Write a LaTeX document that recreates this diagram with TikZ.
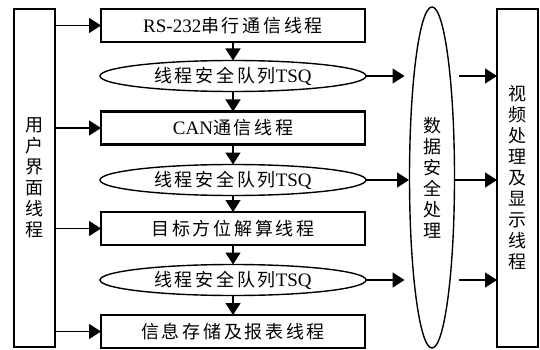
\documentclass[tikz,border=0pt]{standalone}
\usepackage{fontspec}
\setmainfont{Liberation Serif}
\newfontfamily\cjkh[LetterSpace=15]{Noto Sans CJK SC}
\newfontfamily\cjkv{Noto Sans CJK SC}
\newcommand\zhtext[1]{{\cjkh\fontsize{18}{21}\selectfont #1}}
\usetikzlibrary{arrows.meta,shapes.geometric}
\tikzset{
  box/.style={draw, line width=2.2pt, minimum width=264pt, minimum height=33pt,
    inner sep=0pt, outer sep=0pt, font=\fontsize{19}{21}\selectfont},
  queue/.style={draw, ellipse, line width=1.4pt, minimum width=266pt, minimum height=31pt,
    inner sep=0pt, outer sep=0pt, font=\fontsize{19}{21}\selectfont},
  side/.style={draw, line width=2pt, minimum width=41pt, minimum height=338pt,
    inner sep=0pt, outer sep=0pt, align=center, font=\cjkv\fontsize{18}{21}\selectfont},
  lens/.style={draw, ellipse, line width=1.4pt, minimum width=45pt, minimum height=341pt,
    inner sep=0pt, outer sep=0pt, align=center, font=\cjkv\fontsize{18}{21}\selectfont},
  arr/.style={-{Triangle[length=12pt,width=15pt]}, line width=1.5pt}
}
\begin{document}
\begin{tikzpicture}[x=1pt,y=-1pt]
\useasboundingbox (0,0) rectangle (540,350);
% side boxes
\node[side] (user) at (34.5,178) {用\\户\\界\\面\\线\\程};
\node[side] (disp) at (517.5,178) {视\\频\\处\\理\\及\\显\\示\\线\\程};
\node[lens] (data) at (432,177.5) {数\\据\\安\\全\\处\\理};
% thread boxes
\node[box] (r1) at (233,25.5) {RS-232\zhtext{串行通信线程}};
\node[queue] (q1) at (233,76) {\zhtext{线程安全队列}TSQ};
\node[box] (r2) at (233,128) {CAN\zhtext{通信线程}};
\node[queue] (q2) at (233,180) {\zhtext{线程安全队列}TSQ};
\node[box] (r3) at (233,228.5) {\zhtext{目标方位解算线程}};
\node[queue] (q3) at (233,280) {\zhtext{线程安全队列}TSQ};
\node[box] (r4) at (233,331.5) {\zhtext{信息存储及报表线程}};
% arrows from user
\foreach \r in {r1,r2,r3,r4}
  \draw[arr] (user.east |- \r.west) -- (\r.west);
% vertical arrows
\draw[arr] (r1.south) -- (q1.north);
\draw[arr] (q1.south) -- (r2.north);
\draw[arr] (r2.south) -- (q2.north);
\draw[arr] (q2.south) -- (r3.north);
\draw[arr] (r3.south) -- (q3.north);
\draw[arr] (q3.south) -- (r4.north);
% queues to data safety
\draw[arr, shorten >=5pt] (q1.east) -- (q1.east -| data.west);
\draw[arr, shorten >=0.5pt] (q2.east) -- (q2.east -| data.west);
\draw[arr, shorten >=5pt] (q3.east) -- (q3.east -| data.west);
% data safety to display
\draw[arr, shorten <=4.5pt] (q1.east -| data.east) -- (q1.east -| disp.west);
\draw[arr] (q2.east -| data.east) -- (q2.east -| disp.west);
\draw[arr, shorten <=4.5pt] (q3.east -| data.east) -- (q3.east -| disp.west);
\end{tikzpicture}
\end{document}
